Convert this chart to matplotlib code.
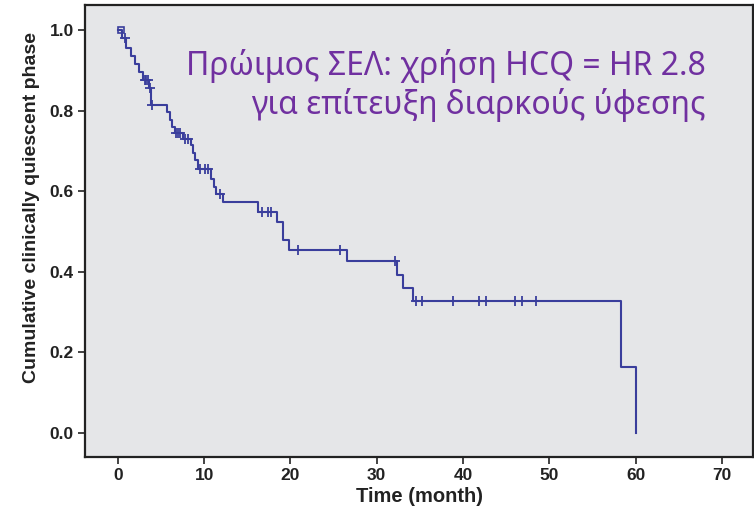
import numpy as np
import matplotlib
matplotlib.use("Agg")
import matplotlib.pyplot as plt

# ---- data ----
step_times = [0, 0.5, 1.0, 1.5, 2.0, 2.5, 2.9, 3.6, 3.9, 5.7, 6.0, 6.3, 6.6, 7.5,
              8.5, 8.7, 9.0, 9.3, 10.8, 11.1, 11.4, 12.2, 16.2, 18.5, 19.1, 19.8,
              26.6, 32.4, 33.0, 34.2, 58.3, 60.1]
survival = [1.0, 0.98, 0.955, 0.935, 0.915, 0.895, 0.875, 0.855, 0.814, 0.797, 0.777,
            0.76, 0.745, 0.73, 0.715, 0.695, 0.677, 0.655, 0.63, 0.61, 0.593, 0.573,
            0.548, 0.524, 0.479, 0.455, 0.427, 0.392, 0.36, 0.328, 0.164, 0.0]
censor_times = [0.8, 3.1, 3.3, 3.5, 3.7, 3.95, 6.8, 7.0, 7.2, 7.8, 8.1, 9.5, 10.1,
                10.4, 11.8, 16.7, 17.4, 17.8, 20.9, 25.8, 32.1, 34.5, 35.2, 38.8,
                41.8, 42.7, 46.0, 46.8, 48.5]
start_marker_time = [0.4]
x_ticks = [0, 10, 20, 30, 40, 50, 60, 70]
y_ticks = [0.0, 0.2, 0.4, 0.6, 0.8, 1.0]
title_lines = ["Πρώιμος ΣΕΛ: χρήση HCQ = HR 2.8", "για επίτευξη διαρκούς ύφεσης"]
x_label = "Time (month)"
y_label = "Cumulative clinically quiescent phase"

line_color = "#3a3e9c"

fig = plt.figure(figsize=(7.54, 5.16), dpi=100)
ax = fig.add_axes([85/754, 1-457/516, 668/754, 452/516])
ax.set_facecolor("#e5e6e8")

st = np.array(step_times)
sv = np.array(survival)
ax.step(st, sv, where="post", color=line_color, lw=1.5)

def surv_at(t):
    idx = np.searchsorted(st, t, side="right") - 1
    return sv[idx]

ct = np.array(censor_times)
ax.plot(ct, surv_at(ct), ls="none", marker="+", ms=7, mew=1.3, color=line_color)
smt = np.array(start_marker_time)
ax.plot(smt, surv_at(smt), ls="none", marker="s", ms=5, mfc="none", mew=1.2, color=line_color)

ax.set_xlim(-3.8, 73.6)
ax.set_ylim(-0.06, 1.062)
ax.set_xticks(x_ticks)
ax.set_yticks(y_ticks)
ax.set_xticklabels([str(v) for v in x_ticks])
ax.set_yticklabels([f"{v:.1f}" for v in y_ticks])

for lab in ax.get_xticklabels() + ax.get_yticklabels():
    lab.set_fontfamily(["Liberation Sans", "DejaVu Sans"])
    lab.set_fontweight("bold")
    lab.set_fontsize(12.5)
    lab.set_color("#222222")

ax.tick_params(axis="both", direction="out", length=5, width=1.2, color="#222222", pad=3)
for sp in ax.spines.values():
    sp.set_linewidth(1.6)
    sp.set_color("#222222")

ax.set_xlabel(x_label, family=["Liberation Sans", "DejaVu Sans"],
              weight="bold", size=14.5, color="#222222", labelpad=3)
ax.set_ylabel(y_label, family=["Liberation Sans", "DejaVu Sans"],
              weight="bold", size=14, color="#222222")
ax.yaxis.set_label_coords(-0.068, 0.553)

purple = "#7030a0"
fig.text(706/754, 1-75/516, title_lines[0], ha="right", va="baseline",
         family=["Noto Sans", "DejaVu Sans"], size=23, color=purple)
fig.text(706/754, 1-114/516, title_lines[1], ha="right", va="baseline",
         family=["Noto Sans", "DejaVu Sans"], size=23, color=purple)

fig.savefig("out.png", dpi=100, facecolor="white")
